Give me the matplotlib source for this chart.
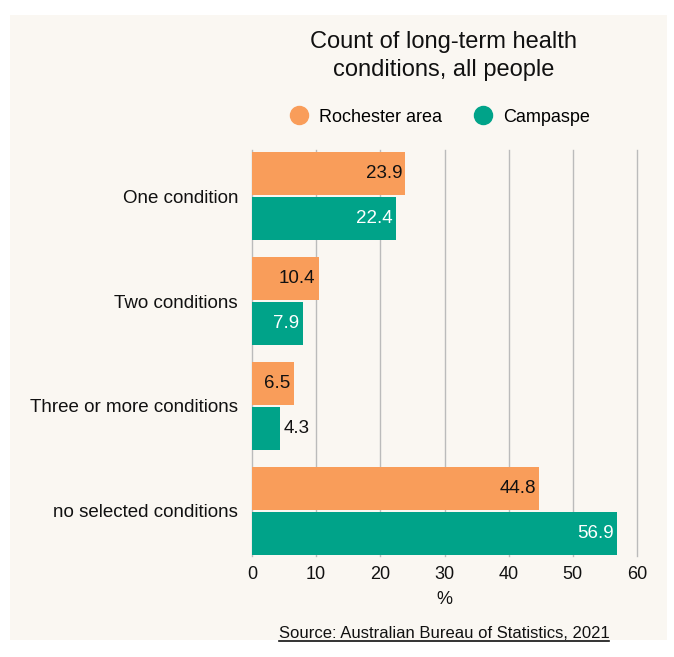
import numpy as np
import matplotlib.pyplot as plt
from matplotlib.patches import Rectangle
from matplotlib.lines import Line2D

plt.rcParams['font.family'] = ['Liberation Sans', 'DejaVu Sans']

categories = ['One condition', 'Two conditions', 'Three or more conditions', 'no selected conditions']
rochester = [23.9, 10.4, 6.5, 44.8]
campaspe = [22.4, 7.9, 4.3, 56.9]
series_names = ['Rochester area', 'Campaspe']
colors = ['#F99D5A', '#00A389']
label_colors = ['#111111', 'white']
xticks = [0, 10, 20, 30, 40, 50, 60]

W, H = 674, 657
fig = plt.figure(figsize=(W / 100, H / 100), dpi=100, facecolor='white')

# panel background
fig.patches.append(Rectangle((10 / W, 1 - 640 / H), 657 / W, 625 / H,
                             transform=fig.transFigure, facecolor='#FAF7F2',
                             edgecolor='none', zorder=-10))

ax = fig.add_axes([252 / W, 1 - 556 / H, 385 / W, 406 / H])
ax.set_facecolor('none')

y = np.arange(len(categories))
h = 0.41
off = 0.215
for vals, col, lcol, dy in [(rochester, colors[0], label_colors[0], -off),
                            (campaspe, colors[1], label_colors[1], off)]:
    ax.barh(y + dy, vals, height=h, color=col, zorder=3)
    for yi, v in zip(y, vals):
        if v < 5:
            ax.text(v + 0.6, yi + dy, f'{v}', ha='left', va='center',
                    fontsize=13.5, color='#111111', zorder=4)
        else:
            ax.text(v - 0.5, yi + dy, f'{v}', ha='right', va='center',
                    fontsize=13.5, color=lcol, zorder=4)

ax.set_xlim(0, 60)
ax.set_ylim(3.43, -0.44)
ax.set_xticks(xticks)
ax.set_xticklabels([str(t) for t in xticks], fontsize=13, color='#111111')
ax.set_yticks(y)
ax.set_yticklabels(categories, fontsize=13.5, color='#111111')
ax.tick_params(axis='y', length=0, pad=10)
ax.tick_params(axis='x', length=0, pad=7)
ax.grid(axis='x', color='#BBBBBB', linewidth=1, zorder=0)
for gl in ax.get_xgridlines():
    gl.set_clip_on(False)
for s in ax.spines.values():
    s.set_visible(False)
ax.set_xlabel('%', fontsize=13, color='#111111', labelpad=6)

fig.text(444 / W, 1 - 56 / H, 'Count of long-term health\nconditions, all people',
         ha='center', va='center', fontsize=17, color='#111111', linespacing=1.3)

handles = [Line2D([], [], marker='o', linestyle='none', markersize=13,
                  markerfacecolor=c, markeredgecolor=c) for c in colors]
fig.legend(handles, series_names, loc='center', bbox_to_anchor=(439 / W, 1 - 117 / H),
           ncol=2, frameon=False, fontsize=13, handletextpad=0.5,
           columnspacing=1.7, handlelength=1.2)

src = fig.text(444 / W, 1 - 634 / H, 'Source: Australian Bureau of Statistics, 2021',
               ha='center', va='center', fontsize=12, color='#111111')
fig.canvas.draw()
bb = src.get_window_extent()
fig.add_artist(Line2D([bb.x0 / W, bb.x1 / W], [(bb.y0 + 1) / H, (bb.y0 + 1) / H],
                      transform=fig.transFigure, color='#111111', linewidth=1.2))

fig.savefig('out.png', dpi=100, facecolor='white')
